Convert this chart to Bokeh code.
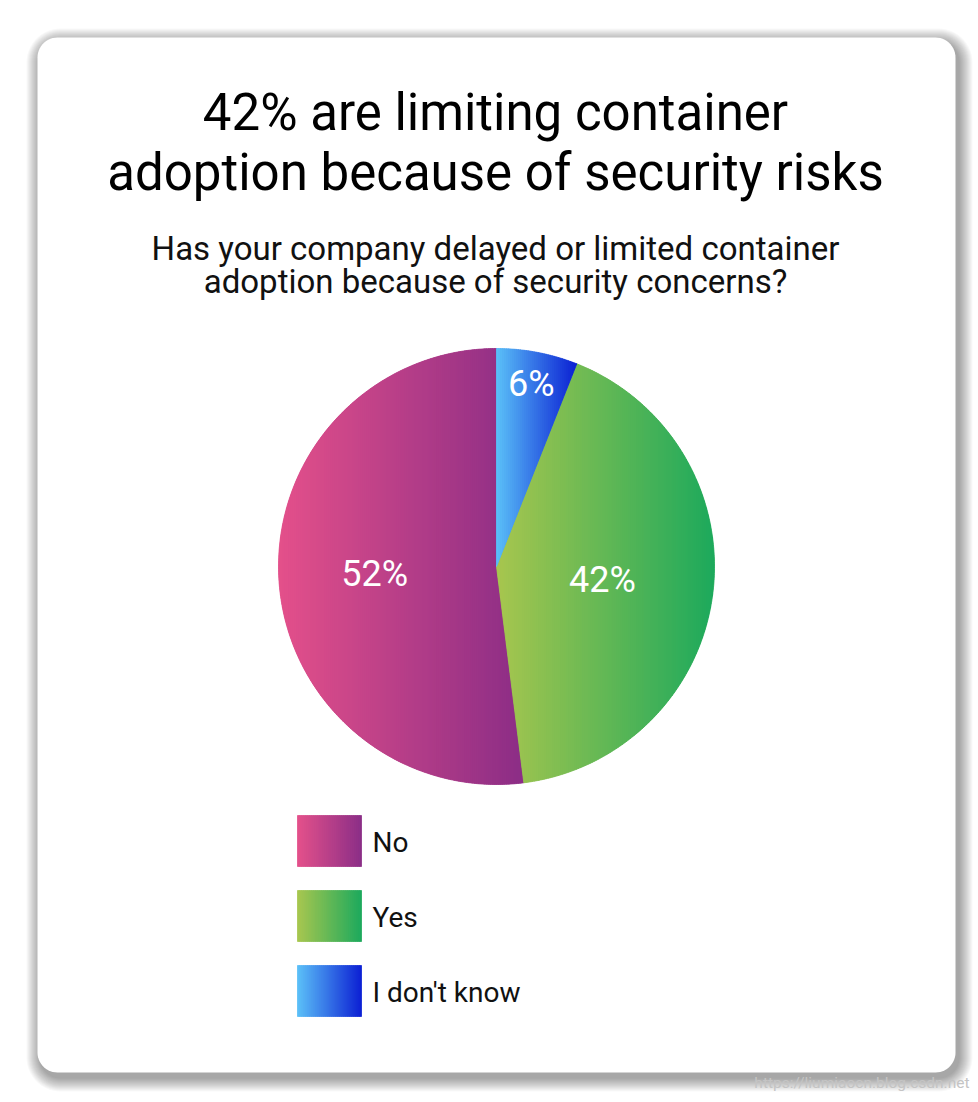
import numpy as np
from bokeh.plotting import figure
from bokeh.models import Range1d
from bokeh.core.properties import value
from bokeh.embed import file_html
from bokeh.resources import INLINE

# ---------------- data ----------------
title_lines = ["42% are limiting container", "adoption because of security risks"]
subtitle_lines = ["Has your company delayed or limited container",
                  "adoption because of security concerns?"]
categories = ["No", "Yes", "I don't know"]
values = [52, 42, 6]
watermark = "https://liumiaocn.blog.csdn.net"

# ---------------- style ----------------
grad_left = ["#e4508a", "#a8c64e", "#5bc1f8"]
grad_right = ["#8b2d86", "#1ca95c", "#0b1fd3"]
label_radius = [0.56, 0.49, 0.85]
FONT = "Roboto"

W, H = 978, 1102


def Y(py):
    return H - py


def base(py, fs):
    # compensate the renderer's alphabetic-baseline offset
    return Y(py - 0.37 * fs)


def hex2rgb(h):
    h = h.lstrip("#")
    return np.array([int(h[i:i + 2], 16) for i in (0, 2, 4)], dtype=float)


def lerp_color(c0, c1, t):
    a, b = hex2rgb(c0), hex2rgb(c1)
    c = a + (b - a) * t
    return "#%02x%02x%02x" % tuple(int(round(v)) for v in c)


def rounded_rect(x0, y0, x1, y1, r, n=14):
    pts = []
    corners = [(x1 - r, y0 + r, -90, 0), (x1 - r, y1 - r, 0, 90),
               (x0 + r, y1 - r, 90, 180), (x0 + r, y0 + r, 180, 270)]
    for ccx, ccy, a0, a1 in corners:
        for t in np.linspace(np.radians(a0), np.radians(a1), n):
            pts.append((ccx + r * np.cos(t), ccy + r * np.sin(t)))
    xs = [q[0] for q in pts]
    ys = [Y(q[1]) for q in pts]
    return xs, ys


def clip_strip(poly, x0, x1):
    def inter(P, Q, xc):
        t = (xc - P[0]) / (Q[0] - P[0])
        return (xc, P[1] + t * (Q[1] - P[1]))

    def clip_half(pts, inside, xc):
        out = []
        n = len(pts)
        for i in range(n):
            P = pts[i - 1]
            Q = pts[i]
            if inside(Q[0]):
                if not inside(P[0]):
                    out.append(inter(P, Q, xc))
                out.append(Q)
            elif inside(P[0]):
                out.append(inter(P, Q, xc))
        return out

    pts = clip_half(poly, lambda x: x >= x0, x0)
    if not pts:
        return []
    pts = clip_half(pts, lambda x: x <= x1, x1)
    return pts


p = figure(width=W, height=H, x_range=Range1d(0, W), y_range=Range1d(0, H),
           output_backend="svg", toolbar_location=None, min_border=0,
           x_axis_location=None, y_axis_location=None)
p.grid.visible = False
p.outline_line_color = None
p.background_fill_color = "white"
p.border_fill_color = "white"

# ---------------- card with shadow ----------------
CX0, CY0, CX1, CY1, CR = 37, 37, 955, 1072, 20
for k in range(14, 0, -1):
    xs, ys = rounded_rect(CX0 - k + 3, CY0 - k + 5, CX1 + k + 3, CY1 + k + 5, CR + k)
    p.patch(xs, ys, fill_color="#000000", fill_alpha=0.026, line_color=None)
xs, ys = rounded_rect(CX0, CY0, CX1, CY1, CR)
p.patch(xs, ys, fill_color="white", line_color=None)

# ---------------- titles ----------------
p.text(x=[495, 495], y=[base(131, 51), base(191, 51)], text=title_lines,
       text_font=value(FONT), text_font_size="51px", text_color="#000000",
       text_align="center", text_baseline="alphabetic")
p.text(x=[495, 495], y=[base(260, 33), base(293, 33)], text=subtitle_lines,
       text_font=value(FONT), text_font_size="33px", text_color="#111111",
       text_align="center", text_baseline="alphabetic")

# ---------------- pie ----------------
cx, cy, R = 496, 566, 218
total = float(sum(values))
acc = 0.0
label_x, label_y, label_t = [], [], []
for i, v in enumerate(values):
    a0 = acc / total * 360.0          # ccw from top, degrees
    a1 = (acc + v) / total * 360.0
    acc += v
    p.wedge(x=cx, y=Y(cy), radius=R, start_angle=np.radians(90 + a0),
            end_angle=np.radians(90 + a1), direction="anticlock",
            fill_color=lerp_color(grad_left[i], grad_right[i], 0.5), line_color=None)
    th = np.radians(np.linspace(a0, a1, 240))
    poly = [(cx, cy)] + [(cx - R * np.sin(t), cy - R * np.cos(t)) for t in th]
    xmin = min(q[0] for q in poly)
    xmax = max(q[0] for q in poly)
    step = 2.0
    edges = np.arange(xmin, xmax + step, step)
    sx, sy, sc = [], [], []
    for e0 in edges[:-1]:
        e1 = min(e0 + step, xmax)
        piece = clip_strip(poly, e0, e1)
        if len(piece) < 3:
            continue
        tmid = ((e0 + e1) / 2 - xmin) / (xmax - xmin)
        sx.append([q[0] for q in piece])
        sy.append([Y(q[1]) for q in piece])
        sc.append(lerp_color(grad_left[i], grad_right[i], tmid))
    p.patches(xs=sx, ys=sy, fill_color=sc, line_color=sc, line_width=0.8)
    am = np.radians((a0 + a1) / 2)
    fr = label_radius[i]
    label_x.append(cx - fr * R * np.sin(am))
    label_y.append(Y(cy - fr * R * np.cos(am)))
    label_t.append("%d%%" % v)

p.text(x=label_x, y=label_y, text=label_t, text_font=value(FONT),
       text_font_size="36px", text_color="white", text_align="center",
       text_baseline="middle")

# ---------------- legend ----------------
LX0, LX1, LY0, LH, LSTEP = 297, 361, 815, 51, 75
for i, cat in enumerate(categories):
    top = LY0 + i * LSTEP
    n = 32
    e = np.linspace(LX0, LX1, n + 1)
    cols = [lerp_color(grad_left[i], grad_right[i], (k + 0.5) / n) for k in range(n)]
    p.quad(left=e[:-1], right=e[1:], top=[Y(top)] * n, bottom=[Y(top + LH)] * n,
           fill_color=cols, line_color=cols, line_width=0.8)
p.text(x=[372] * len(categories),
       y=[base(852 + i * LSTEP, 28) for i in range(len(categories))],
       text=categories, text_font=value(FONT), text_font_size="28px",
       text_color="#111111", text_align="left", text_baseline="alphabetic")

# ---------------- watermark ----------------
p.text(x=[969], y=[base(1088, 15.5)], text=[watermark], text_font=value(FONT),
       text_font_size="15.5px", text_color="#c4c4c4", text_align="right",
       text_baseline="alphabetic")

open("out.html", "w").write(file_html(p, INLINE))
